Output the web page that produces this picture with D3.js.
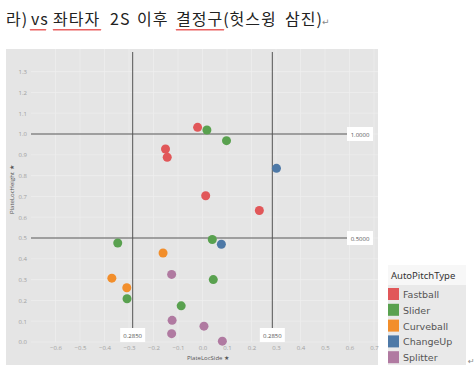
<!DOCTYPE html>
<html>
<head>
<meta charset="utf-8">
<script src="https://cdn.jsdelivr.net/npm/d3@7"></script>
<style>
body { margin: 0; background: #fff; }
svg { display: block; }
</style>
</head>
<body>
<div id="chart"></div>
<script>
var pitchTypes = ["Fastball", "Slider", "Curveball", "ChangeUp", "Splitter"];
var pitchColors = ["#e15759", "#59a14f", "#f28e2b", "#4e79a7", "#b07aa1"];

var fastballSide = [-0.02, -0.151, -0.144, 0.013, 0.232];
var fastballHeight = [1.032, 0.928, 0.888, 0.703, 0.632];
var sliderSide = [0.018, 0.098, 0.040, 0.044, -0.087, -0.346, -0.308];
var sliderHeight = [1.019, 0.968, 0.493, 0.300, 0.174, 0.476, 0.208];
var curveballSide = [-0.161, -0.370, -0.309];
var curveballHeight = [0.428, 0.307, 0.261];
var changeupSide = [0.302, 0.077];
var changeupHeight = [0.835, 0.470];
var splitterSide = [-0.126, -0.124, -0.126, 0.006, 0.081];
var splitterHeight = [0.325, 0.104, 0.040, 0.076, 0.004];

var xTicks = [-0.6, -0.5, -0.4, -0.3, -0.2, -0.1, 0.0, 0.1, 0.2, 0.3, 0.4, 0.5, 0.6, 0.7];
var yTicks = [0.0, 0.1, 0.2, 0.3, 0.4, 0.5, 0.6, 0.7, 0.8, 0.9, 1.0, 1.1, 1.2, 1.3];
var refSide = [-0.285, 0.285];
var refHeight = [1.0, 0.5];

var titleWords = ["라)", "vs", "좌타자", "2S", "이후", "결정구(헛스윙", "삼진)"];
var titleX = [6, 31, 53, 110, 137, 176, 285];

var width = 476;
var height = 380;

var points = [];
var sides = [fastballSide, sliderSide, curveballSide, changeupSide, splitterSide];
var heights = [fastballHeight, sliderHeight, curveballHeight, changeupHeight, splitterHeight];
pitchTypes.forEach(function(t, i){
    sides[i].forEach(function(s, j){
        points.push({type: t, side: s, height: heights[i][j]});
    });
});

var svg = d3
.select("#chart")
.append("svg")
.attr("width", width)
.attr("height", height);

// title, laid out word by word like the document it came from
svg.append("text")
.attr("y", 25)
.attr("font-family", "'Noto Sans CJK KR', sans-serif")
.attr("font-weight", 400)
.attr("font-size", 16)
.attr("letter-spacing", 1)
.attr("fill", "#222")
.selectAll("tspan")
.data(titleWords)
.enter()
.append("tspan")
.attr("x", function(d, i){ return titleX[i]; })
.text(function(d){ return d; });

svg.append("text")
.attr("x", 322)
.attr("y", 25)
.attr("font-family", "'DejaVu Sans', sans-serif")
.attr("font-size", 9)
.attr("fill", "#888")
.text("\u21b5");

function squiggle(x0, x1, y) {
    var d = "M" + x0 + "," + y;
    for (var x = x0; x < x1; x += 2) {
        d += " L" + (x + 1) + "," + (y + 1.5) + " L" + (x + 2) + "," + y;
    }
    svg.append("path")
    .attr("d", d)
    .attr("fill", "none")
    .attr("stroke", "#e02020")
    .attr("stroke-width", 0.8);
}
squiggle(30, 46, 29);
squiggle(53, 101, 29);
squiggle(176, 224, 29);

// panel
svg.append("rect")
.attr("x", 6)
.attr("y", 49)
.attr("width", 372)
.attr("height", 316)
.attr("fill", "#e5e5e5");

var x_scale = d3
.scaleLinear()
.domain([-0.7, 0.7])
.range([31, 374]);

var y_scale = d3
.scaleLinear()
.domain([0, 1.4])
.range([342, 50.8]);

var color = d3.scaleOrdinal().domain(pitchTypes).range(pitchColors);

svg.append("g")
.selectAll("line")
.data(xTicks)
.enter()
.append("line")
.attr("x1", function(d){ return x_scale(d); })
.attr("x2", function(d){ return x_scale(d); })
.attr("y1", 49)
.attr("y2", y_scale(0))
.attr("stroke", "#ededed")
.attr("stroke-width", 0.8);

svg.append("g")
.selectAll("line")
.data(yTicks)
.enter()
.append("line")
.attr("x1", x_scale(-0.7))
.attr("x2", 378)
.attr("y1", function(d){ return y_scale(d); })
.attr("y2", function(d){ return y_scale(d); })
.attr("stroke", "#ededed")
.attr("stroke-width", 0.8);

var xAxis = d3.axisBottom(x_scale)
.tickValues(xTicks)
.tickFormat(d3.format(".1f"))
.tickSize(0)
.tickPadding(4);

var yAxis = d3.axisLeft(y_scale)
.tickValues(yTicks)
.tickFormat(d3.format(".1f"))
.tickSize(0)
.tickPadding(4);

svg.append("g")
.attr("class", "xAxis")
.attr("transform", "translate(0," + y_scale(0) + ")")
.call(xAxis);

svg.append("g")
.attr("class", "yAxis")
.attr("transform", "translate(" + x_scale(-0.7) + ",0)")
.call(yAxis);

svg.selectAll(".xAxis .domain, .yAxis .domain").remove();
svg.selectAll(".xAxis text, .yAxis text")
.attr("fill", "#a0a0a0")
.attr("font-family", "'Open Sans', sans-serif")
.attr("font-size", 6);

svg.append("text")
.attr("x", 187)
.attr("y", 360)
.attr("font-family", "'Open Sans', sans-serif")
.attr("font-size", 6)
.attr("fill", "#555")
.text("PlateLocSide \u2605");

svg.append("text")
.attr("transform", "translate(14, 214)rotate(-90)")
.attr("font-family", "'Open Sans', sans-serif")
.attr("font-size", 6)
.attr("fill", "#555")
.text("PlateLocHeight \u2605");

// reference lines
svg.append("g")
.selectAll("line")
.data(refHeight)
.enter()
.append("line")
.attr("x1", x_scale(-0.7))
.attr("x2", 347)
.attr("y1", function(d){ return y_scale(d); })
.attr("y2", function(d){ return y_scale(d); })
.attr("stroke", "#555")
.attr("stroke-width", 1);

svg.append("g")
.selectAll("line")
.data(refSide)
.enter()
.append("line")
.attr("x1", function(d){ return x_scale(d); })
.attr("x2", function(d){ return x_scale(d); })
.attr("y1", 52)
.attr("y2", 328)
.attr("stroke", "#555")
.attr("stroke-width", 1);

var hLabels = svg.append("g")
.selectAll("g")
.data(refHeight)
.enter()
.append("g")
.attr("transform", function(d){ return "translate(347," + (y_scale(d) - 7) + ")"; });
hLabels.append("rect")
.attr("width", 26)
.attr("height", 14)
.attr("fill", "#fff");
hLabels.append("text")
.attr("x", 13)
.attr("y", 9.5)
.attr("text-anchor", "middle")
.attr("font-family", "'Open Sans', sans-serif")
.attr("font-size", 6)
.attr("fill", "#555")
.text(function(d){ return d3.format(".4f")(d); });

var vLabels = svg.append("g")
.selectAll("g")
.data(refSide)
.enter()
.append("g")
.attr("transform", function(d){ return "translate(" + (x_scale(d) - 12.5) + ",328)"; });
vLabels.append("rect")
.attr("width", 25)
.attr("height", 14)
.attr("fill", "#fff");
vLabels.append("text")
.attr("x", 12.5)
.attr("y", 9.5)
.attr("text-anchor", "middle")
.attr("font-family", "'Open Sans', sans-serif")
.attr("font-size", 6)
.attr("fill", "#555")
.text(function(d){ return d3.format(".4f")(Math.abs(d)); });

// points
svg.append("g")
.selectAll("circle")
.data(points)
.enter()
.append("circle")
.attr("cx", function(d){ return x_scale(d.side); })
.attr("cy", function(d){ return y_scale(d.height); })
.attr("r", 4.5)
.attr("fill", function(d){ return color(d.type); });

// legend
var legend = svg.append("g").attr("transform", "translate(388,265)");
legend.append("rect")
.attr("width", 78)
.attr("height", 20)
.attr("fill", "#f7f7f7");
legend.append("rect")
.attr("y", 20)
.attr("width", 78)
.attr("height", 80)
.attr("fill", "#e9e9e9");
legend.append("text")
.attr("x", 3)
.attr("y", 14)
.attr("font-family", "'Noto Sans', sans-serif")
.attr("font-size", 9.5)
.attr("fill", "#333")
.text("AutoPitchType");

var items = legend.selectAll(".item")
.data(pitchTypes)
.enter()
.append("g")
.attr("class", "item")
.attr("transform", function(d, i){ return "translate(0," + (23 + i * 15.8) + ")"; });
items.append("rect")
.attr("width", 11)
.attr("height", 12)
.attr("fill", function(d){ return color(d); });
items.append("text")
.attr("x", 15)
.attr("y", 10)
.attr("font-family", "'DejaVu Sans', sans-serif")
.attr("font-size", 9.5)
.attr("fill", "#555")
.text(function(d){ return d; });

svg.append("text")
.attr("x", 468)
.attr("y", 364)
.attr("font-family", "'DejaVu Sans', sans-serif")
.attr("font-size", 8)
.attr("fill", "#888")
.text("\u21b5");
</script>
</body>
</html>
